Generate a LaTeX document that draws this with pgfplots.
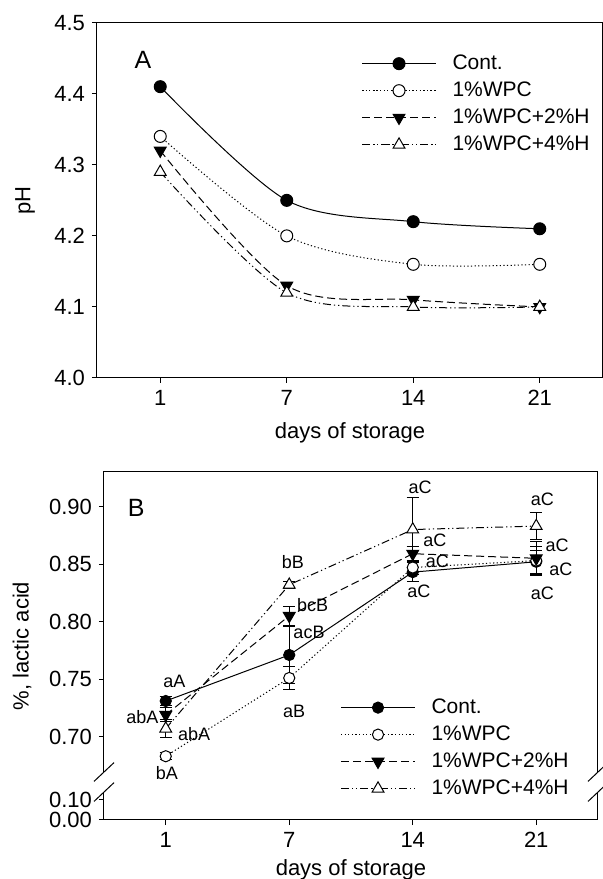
\documentclass[border=0pt]{standalone}
\usepackage{fontspec}
\setmainfont{Liberation Sans}
\usepackage{pgfplots}
\pgfplotsset{compat=1.18}

\pgfplotsset{
  panel/.style={
    scale only axis,
    xmin=-0.5, xmax=3.5,
    xtick={0,1,2,3}, xticklabels={1,7,14,21},
    tick align=outside, major tick length=2.5pt,
    xtick pos=bottom, ytick pos=left,
    axis line style={line width=0.5pt},
    tick style={line width=0.5pt, black},
    tick label style={font=\fontsize{11}{13}\selectfont},
    label style={font=\fontsize{11}{13}\selectfont},
    /pgf/number format/assume math mode=true,
    clip=false,
    legend cell align=left,
    legend style={draw=none, fill=none, inner sep=0pt, row sep=1pt, column sep=7pt,
      font=\fontsize{10.5}{12}\selectfont,
      nodes={inner sep=1pt, text height=8pt, text depth=2.5pt}},
    legend image code/.code={\draw[mark repeat=2,mark phase=2,##1] plot coordinates {(0pt,0pt) (18.5pt,0pt) (37pt,0pt)};},
  },
  cont/.style={black, solid, line width=0.5pt, mark=*, mark size=3pt, mark options={solid, fill=black}},
  wpc/.style={black, line width=0.5pt, dash pattern=on 0.6pt off 1.2pt, mark=*, mark size=3pt, mark options={solid, fill=white}},
  htwo/.style={black, line width=0.5pt, dash pattern=on 4pt off 2pt, mark=triangle*, mark size=3.4pt, mark options={solid, rotate=180, fill=black}},
  hfour/.style={black, line width=0.5pt, dash pattern=on 4pt off 1.5pt on 0.6pt off 1.5pt on 0.6pt off 1.5pt, mark=triangle*, mark size=3.4pt, mark options={solid, fill=white}},
  ebar/.style={error bars/.cd, y dir=both, y explicit,
    error bar style={solid, line width=0.5pt},
    error mark options={rotate=90, mark size=3pt, solid, line width=0.5pt}},
}

\begin{document}
\begin{tikzpicture}
\path[use as bounding box] (0,0) rectangle (301pt,439.5pt);

% ---- panel A: pH ----
\begin{axis}[panel,
  at={(48.5pt,250.5pt)}, anchor=south west,
  width=253pt, height=177.65pt,
  ymin=4.0, ymax=4.5, ytick={4.0,4.1,4.2,4.3,4.4,4.5},
  yticklabel style={/pgf/number format/.cd, fixed, precision=1, zerofill},
  xlabel={days of storage}, ylabel={pH},
  xlabel style={at={(axis description cs:0.5,-0.155)}, anchor=center},
  ylabel style={at={(axis description cs:-0.142,0.5)}, anchor=center},
  legend style={at={(axis description cs:0.522,0.921)}, anchor=north west},
]
\addplot[cont, smooth] coordinates {(0,4.41) (1,4.25) (2,4.22) (3,4.21)};
\addlegendentry{Cont.}
\addplot[wpc, smooth] coordinates {(0,4.34) (1,4.20) (2,4.16) (3,4.16)};
\addlegendentry{1\%WPC}
\addplot[htwo, smooth] coordinates {(0,4.32) (1,4.13) (2,4.11) (3,4.10)};
\addlegendentry{1\%WPC+2\%H}
\addplot[hfour, smooth] coordinates {(0,4.29) (1,4.12) (2,4.10) (3,4.10)};
\addlegendentry{1\%WPC+4\%H}
\node[font=\fontsize{12.5}{14}\selectfont] at (axis description cs:0.091,0.895) {A};
\end{axis}

% ---- panel B: lactic acid ----
\begin{axis}[panel,
  at={(52pt,29.5pt)}, anchor=south west,
  width=247pt, height=174pt,
  ymin=0.6276, ymax=0.930,
  ytick={0.6276,0.645,0.70,0.75,0.80,0.85,0.90},
  yticklabels={0.00,0.10,0.70,0.75,0.80,0.85,0.90},
  xlabel={days of storage}, ylabel={\%, lactic acid},
  xlabel style={at={(axis description cs:0.5,-0.144)}, anchor=center},
  ylabel style={at={(axis description cs:-0.166,0.5)}, anchor=center},
  legend style={at={(axis description cs:0.478,0.36)}, anchor=north west},
]
\addplot[cont, mark size=2.8pt, ebar] coordinates {
  (0,0.731) +- (0,0.004) (1,0.771) +- (0,0.025) (2,0.843) +- (0,0.008) (3,0.852) +- (0,0.010)};
\addlegendentry{Cont.}
\addplot[wpc, mark size=2.8pt, ebar] coordinates {
  (0,0.683) +- (0,0.003) (1,0.751) +- (0,0.010) (2,0.847) +- (0,0.006) (3,0.853) +- (0,0.012)};
\addlegendentry{1\%WPC}
\addplot[htwo, ebar] coordinates {
  (0,0.719) +- (0,0.006) (1,0.805) +- (0,0.008) (2,0.859) +- (0,0.006) (3,0.855) +- (0,0.015)};
\addlegendentry{1\%WPC+2\%H}
\addplot[hfour, ebar] coordinates {
  (0,0.707) +- (0,0.008) (1,0.832) +- (0,0.003) (2,0.880) +- (0,0.028) (3,0.883) +- (0,0.012)};
\addlegendentry{1\%WPC+4\%H}

\node[font=\fontsize{12.5}{14}\selectfont] at (axis description cs:0.065,0.897) {B};
\begin{scope}[every node/.style={font=\fontsize{9}{10}\selectfont, inner sep=0pt}]
\node at (axis cs:0.07,0.748) {aA};
\node at (axis cs:-0.19,0.7174) {abA};
\node at (axis cs:0.23,0.7023) {abA};
\node at (axis cs:0.01,0.668) {bA};
\node at (axis cs:1.03,0.852) {bB};
\node at (axis cs:1.19,0.814) {bcB};
\node at (axis cs:1.16,0.791) {acB};
\node at (axis cs:1.04,0.7217) {aB};
\node at (axis cs:2.06,0.917) {aC};
\node at (axis cs:2.18,0.871) {aC};
\node at (axis cs:2.20,0.852) {aC};
\node at (axis cs:2.05,0.826) {aC};
\node at (axis cs:3.05,0.906) {aC};
\node at (axis cs:3.17,0.866) {aC};
\node at (axis cs:3.20,0.8456) {aC};
\node at (axis cs:3.05,0.825) {aC};
\end{scope}

\coordinate (bLa) at (axis cs:-0.5,0.6693);
\coordinate (bLb) at (axis cs:-0.5,0.6519);
\coordinate (bRa) at (axis cs:3.5,0.6693);
\coordinate (bRb) at (axis cs:3.5,0.6519);
\end{axis}

% axis break marks
\draw[white, line width=2pt] (bLa) -- (bLb) (bRa) -- (bRb);
\draw[line width=0.5pt] (bLa) ++(-5pt,-4.7pt) -- ++(10pt,9.4pt);
\draw[line width=0.5pt] (bLb) ++(-5pt,-4.7pt) -- ++(10pt,9.4pt);
\draw[line width=0.5pt] (bRa) ++(-5pt,-4.7pt) -- ++(10pt,9.4pt);
\draw[line width=0.5pt] (bRb) ++(-5pt,-4.7pt) -- ++(10pt,9.4pt);
\end{tikzpicture}
\end{document}
